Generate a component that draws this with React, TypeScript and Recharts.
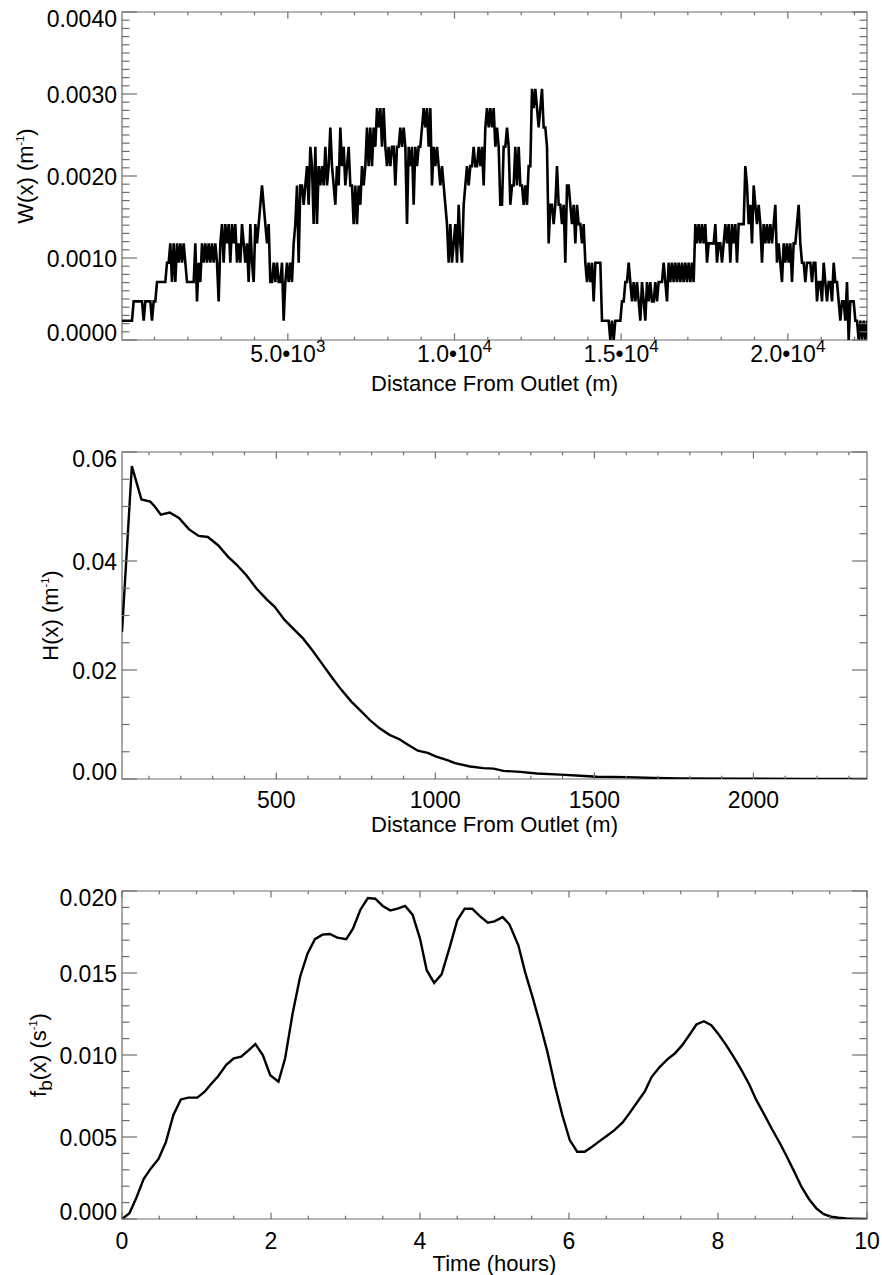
import React from "react";
import { LineChart, Line, XAxis, YAxis, ReferenceArea } from "recharts";

const FONT = '"Liberation Sans", Arial, Helvetica, sans-serif';
const FRAME = "#6e6e6e";
const CHART_W = 882;
const PLOT_LEFT = 122;
const PLOT_RIGHT = 867;

// ---- W(x): width function, channel counts on a 50 m grid (one row = 1 km) ----
const W_X0 = 25;
const W_DX = 50;
const W_UNIT = 0.0002356; // one channel, in m^-1
const W_COUNTS = [
  1, 1, 1, 1, 1, 1, 1, 2, 2, 2, 2, 2, 2, 1, 2, 2, 2, 2, 1, 2,
  2, 3, 3, 3, 3, 3, 3, 4, 4, 5, 3, 5, 3, 5, 4, 5, 4, 5, 4, 3,
  3, 3, 3, 3, 5, 2, 4, 3, 5, 4, 5, 4, 5, 4, 5, 4, 5, 4, 2, 5,
  6, 4, 6, 5, 6, 4, 6, 5, 6, 4, 5, 4, 6, 5, 4, 5, 3, 6, 4, 3,
  6, 5, 6, 7, 8, 7, 6, 5, 6, 3, 3, 4, 3, 4, 3, 3, 4, 1, 3, 4,
  3, 4, 3, 5, 6, 8, 4, 8, 8, 7, 8, 9, 7, 10, 9, 6, 10, 6, 9, 8,
  9, 8, 10, 8, 9, 11, 9, 8, 7, 9, 8, 11, 9, 10, 8, 9, 10, 8, 8, 6,
  8, 6, 8, 7, 9, 8, 9, 11, 9, 11, 9, 11, 10, 12, 11, 12, 10, 12, 10, 9,
  10, 9, 10, 10, 8, 10, 10, 11, 10, 11, 10, 6, 10, 9, 10, 7, 10, 9, 10, 10,
  11, 12, 11, 12, 10, 12, 8, 10, 9, 10, 9, 8, 9, 8, 7, 6, 4, 6, 4, 5,
  6, 4, 7, 5, 4, 7, 8, 9, 8, 9, 9, 10, 9, 9, 10, 9, 10, 8, 11, 12,
  11, 12, 11, 12, 10, 11, 10, 7, 7, 10, 10, 11, 10, 7, 8, 8, 10, 8, 10, 8,
  8, 7, 8, 7, 9, 9, 13, 12, 13, 12, 11, 12, 13, 11, 11, 10, 5, 7, 7, 6,
  7, 9, 7, 7, 6, 7, 4, 8, 8, 7, 6, 7, 5, 7, 6, 6, 5, 6, 4, 3,
  4, 3, 4, 2, 4, 4, 4, 4, 1, 1, 1, 1, 1, 0, 1, 0, 1, 1, 1, 1,
  2, 2, 3, 3, 4, 3, 2, 3, 2, 3, 2, 1, 3, 2, 1, 3, 2, 3, 2, 2,
  3, 2, 3, 3, 3, 4, 3, 2, 4, 3, 4, 3, 4, 3, 4, 3, 4, 3, 4, 3,
  4, 3, 4, 3, 6, 5, 6, 5, 6, 5, 6, 4, 5, 5, 5, 5, 6, 4, 5, 5,
  4, 5, 6, 5, 6, 4, 6, 5, 6, 4, 6, 6, 6, 6, 9, 8, 6, 7, 5, 8,
  7, 6, 7, 6, 4, 6, 5, 6, 5, 6, 5, 6, 7, 4, 5, 4, 3, 5, 4, 5,
  4, 5, 3, 5, 5, 6, 7, 5, 4, 4, 3, 4, 4, 4, 3, 4, 4, 2, 3, 3,
  2, 4, 3, 2, 3, 3, 2, 4, 3, 3, 2, 1, 2, 2, 1, 3, 0, 2, 2, 2,
  1, 1, 0, 1, 0, 1, 0, 1,
];
const W_X_MAJOR = [5000, 10000, 15000, 20000];
const W_X_MANTISSA = ["5.0", "1.0", "1.5", "2.0"];
const W_X_EXPONENT = ["3", "4", "4", "4"];
const W_Y_MAJOR = [0, 0.001, 0.002, 0.003, 0.004];
const W_Y_LABELS = ["0.0000", "0.0010", "0.0020", "0.0030", "0.0040"];

// ---- H(x) ----
const H_X = [
  15, 46, 76, 104, 118, 137, 165, 194, 226, 256, 285, 317, 348, 374, 406, 437, 469, 495,
  526, 558, 584, 615, 647, 678, 704, 736, 767, 798, 825, 856, 887, 914, 945, 976, 1003,
  1040, 1062, 1109, 1151, 1183, 1214, 1267, 1319, 1393, 1456, 1508, 1603, 1687, 1771,
  1960, 2150, 2357,
];
const H_V = [
  0.027, 0.0574, 0.0513, 0.0509, 0.05, 0.0485, 0.0489, 0.0479, 0.0458, 0.0446, 0.0444,
  0.0429, 0.0408, 0.0394, 0.0374, 0.035, 0.033, 0.0316, 0.0292, 0.0273, 0.0258, 0.0235,
  0.0209, 0.0184, 0.0164, 0.0142, 0.0124, 0.0106, 0.0093, 0.0081, 0.0073, 0.0063, 0.0052,
  0.0048, 0.0041, 0.0034, 0.0029, 0.0023, 0.002, 0.0019, 0.0015, 0.0013, 0.001, 0.0008,
  0.0006, 0.0004, 0.00035, 0.0002, 0.0001, 0.00005, 0.00003, 0.00002,
];
const H_X_MAJOR = [500, 1000, 1500, 2000];
const H_X_LABELS = ["500", "1000", "1500", "2000"];
const H_Y_MAJOR = [0, 0.02, 0.04, 0.06];
const H_Y_LABELS = ["0.00", "0.02", "0.04", "0.06"];

// ---- f_b(x) vs time ----
const FB_T = [
  0, 0.1, 0.19, 0.29, 0.39, 0.49, 0.59, 0.69, 0.79, 0.89, 1.01, 1.11, 1.19, 1.29, 1.4, 1.5,
  1.6, 1.69, 1.79, 1.89, 1.99, 2.1, 2.19, 2.29, 2.39, 2.49, 2.59, 2.69, 2.79, 2.89, 3.01,
  3.1, 3.2, 3.3, 3.4, 3.5, 3.6, 3.7, 3.8, 3.9, 4.0, 4.09, 4.19, 4.29, 4.4, 4.5, 4.6, 4.7,
  4.8, 4.91, 5.0, 5.11, 5.2, 5.32, 5.41, 5.51, 5.61, 5.71, 5.81, 5.91, 6.01, 6.11, 6.21,
  6.31, 6.41, 6.51, 6.61, 6.72, 6.81, 6.91, 7.02, 7.11, 7.22, 7.32, 7.42, 7.52, 7.62,
  7.71, 7.81, 7.91, 8.01, 8.11, 8.21, 8.31, 8.42, 8.51, 8.62, 8.72, 8.82, 8.92, 9.02,
  9.12, 9.22, 9.32, 9.42, 9.52, 9.62, 9.72, 9.85, 10.0,
];
const FB_V = [
  0, 0.00035, 0.00126, 0.00244, 0.0031, 0.00366, 0.0047, 0.00634, 0.00729, 0.0074, 0.0074,
  0.00776, 0.0082, 0.0087, 0.0094, 0.0098, 0.0099, 0.01025, 0.01066, 0.01, 0.00877,
  0.00837, 0.0098, 0.01253, 0.01476, 0.01618, 0.01706, 0.01734, 0.01738, 0.01716, 0.01706,
  0.0177, 0.01886, 0.01957, 0.01953, 0.01909, 0.01882, 0.01892, 0.01909, 0.01856, 0.0171,
  0.01517, 0.0144, 0.01492, 0.01659, 0.01821, 0.01892, 0.01892, 0.01848, 0.01807, 0.01815,
  0.01841, 0.01797, 0.01669, 0.01507, 0.01354, 0.01192, 0.01019, 0.00816, 0.00634,
  0.00481, 0.0041, 0.0041, 0.00441, 0.00475, 0.00508, 0.00542, 0.00589, 0.00644, 0.00709,
  0.0078, 0.00867, 0.00928, 0.00973, 0.01009, 0.0106, 0.01125, 0.01186, 0.01206, 0.01182,
  0.01125, 0.0106, 0.00989, 0.00912, 0.0082, 0.00729, 0.00638, 0.00552, 0.00471, 0.00384,
  0.00292, 0.00197, 0.00122, 0.00065, 0.0003, 0.00014, 0.00008, 0.00004, 0.00002, 0.00001,
];
const FB_X_MAJOR = [0, 2, 4, 6, 8, 10];
const FB_X_LABELS = ["0", "2", "4", "6", "8", "10"];
const FB_Y_MAJOR = [0, 0.005, 0.01, 0.015, 0.02];
const FB_Y_LABELS = ["0.000", "0.005", "0.010", "0.015", "0.020"];

// evenly spaced minor tick positions
const steps = (a: number, b: number, s: number) =>
  Array.from({ length: Math.round((b - a) / s) + 1 }, (_, i) => parseFloat((a + i * s).toFixed(8)));
const indexOf = (list: number[], v: number) => list.findIndex((m) => Math.abs(m - v) < 1e-9);

const wData = W_COUNTS.map((c, i) => ({ x: W_X0 + i * W_DX, y: c * W_UNIT }));
const hData = H_X.map((x, i) => ({ x, y: H_V[i] }));
const fbData = FB_T.map((x, i) => ({ x, y: FB_V[i] }));

const tickStyle = { fontFamily: FONT, fontSize: 23, fill: "#000" };
const titleStyle = { fontFamily: FONT, fontSize: 22, fill: "#000" };

type PanelProps = {
  data: { x: number; y: number }[];
  top: number;
  height: number;
  plotTop: number;
  plotBottom: number;
  xDomain: [number, number];
  xTicks: number[];
  xMajor: number[];
  xLabel: (i: number) => React.ReactNode;
  xLabelDy: number;
  xTitle: React.ReactNode;
  xTitleDy: number;
  yDomain: [number, number];
  yTicks: number[];
  yMajor: number[];
  yLabels: string[];
  yTitle: React.ReactNode;
  yTitleX: number;
  width?: number;
};

function Panel(p: PanelProps) {
  const XTick = (t: any) => {
    const cx = t.payload?.coordinate ?? t.x;
    const idx = indexOf(p.xMajor, t.payload?.value);
    const len = idx >= 0 ? 6.5 : 3.3;
    return (
      <g>
        <line x1={cx} x2={cx} y1={p.plotBottom} y2={p.plotBottom - len} stroke={FRAME} strokeWidth={1.2} />
        <line x1={cx} x2={cx} y1={p.plotTop} y2={p.plotTop + len} stroke={FRAME} strokeWidth={1.2} />
        {idx >= 0 && (
          <text x={cx} y={p.plotBottom + p.xLabelDy + 8} textAnchor="middle" {...tickStyle}>
            {p.xLabel(idx)}
          </text>
        )}
      </g>
    );
  };

  const YTick = (t: any) => {
    const cy = t.payload?.coordinate ?? t.y;
    const v = t.payload?.value;
    const idx = indexOf(p.yMajor, v);
    const len = idx >= 0 ? 15 : 7.5;
    let off = 1;
    if (Math.abs(v - p.yDomain[1]) < 1e-9) off = 7;
    if (Math.abs(v - p.yDomain[0]) < 1e-9) off = -7;
    return (
      <g>
        <line x1={PLOT_LEFT} x2={PLOT_LEFT + len} y1={cy} y2={cy} stroke={FRAME} strokeWidth={1.2} />
        <line x1={PLOT_RIGHT} x2={PLOT_RIGHT - len} y1={cy} y2={cy} stroke={FRAME} strokeWidth={1.2} />
        {idx >= 0 && (
          <text x={PLOT_LEFT - 5} y={cy + off + 8} textAnchor="end" {...tickStyle}>
            {p.yLabels[idx]}
          </text>
        )}
      </g>
    );
  };

  const xTitle = () => (
    <text x={(PLOT_LEFT + PLOT_RIGHT) / 2} y={p.plotBottom + p.xTitleDy + 8} textAnchor="middle" {...titleStyle}>
      {p.xTitle}
    </text>
  );
  const cyMid = (p.plotTop + p.plotBottom) / 2;
  const yTitle = () => (
    <text transform={`translate(${p.yTitleX + 8}, ${cyMid}) rotate(-90)`} textAnchor="middle" {...titleStyle}>
      {p.yTitle}
    </text>
  );

  return (
    <div style={{ position: "absolute", left: 0, top: p.top }}>
      <LineChart
        width={CHART_W}
        height={p.height}
        data={p.data}
        margin={{ top: p.plotTop, right: CHART_W - PLOT_RIGHT, bottom: 0, left: 0 }}
      >
        <XAxis
          dataKey="x"
          type="number"
          domain={p.xDomain}
          allowDataOverflow
          ticks={p.xTicks}
          interval={0}
          tick={XTick}
          tickLine={false}
          axisLine={false}
          height={p.height - p.plotBottom}
          label={xTitle}
        />
        <YAxis
          type="number"
          domain={p.yDomain}
          allowDataOverflow
          ticks={p.yTicks}
          interval={0}
          tick={YTick}
          tickLine={false}
          axisLine={false}
          width={PLOT_LEFT}
          label={yTitle}
        />
        <ReferenceArea
          x1={p.xDomain[0]}
          x2={p.xDomain[1]}
          y1={p.yDomain[0]}
          y2={p.yDomain[1]}
          fill="none"
          stroke={FRAME}
          strokeWidth={1.2}
        />
        <Line
          dataKey="y"
          type="linear"
          stroke="#000"
          strokeWidth={p.width ?? 2.4}
          strokeLinejoin="miter"
          dot={false}
          activeDot={false}
          isAnimationActive={false}
        />
      </LineChart>
    </div>
  );
}

export default function App() {
  return (
    <div style={{ position: "absolute", left: 0, top: 0, width: CHART_W, height: 1275, background: "#fff" }}>
      <Panel
        data={wData}
        top={0}
        height={420}
        plotTop={12}
        plotBottom={340}
        xDomain={[25, 22375]}
        xTicks={steps(1000, 22000, 1000)}
        xMajor={W_X_MAJOR}
        xLabel={(i) => (
          <>
            <tspan>{W_X_MANTISSA[i]}•10</tspan>
            <tspan dy={-10} fontSize={17}>
              {W_X_EXPONENT[i]}
            </tspan>
          </>
        )}
        xLabelDy={14}
        xTitle="Distance From Outlet (m)"
        xTitleDy={43}
        yDomain={[0, 0.004]}
        yTicks={steps(0, 0.004, 0.0001)}
        yMajor={W_Y_MAJOR}
        yLabels={W_Y_LABELS}
        yTitle={
          <>
            <tspan>W(x) (m</tspan>
            <tspan dy={-9} fontSize={11}>-1</tspan>
            <tspan dy={9}>)</tspan>
          </>
        }
        yTitleX={25}
        width={2.6}
      />
      <Panel
        data={hData}
        top={420}
        height={435}
        plotTop={32}
        plotBottom={359}
        xDomain={[15, 2357]}
        xTicks={steps(100, 2300, 100)}
        xMajor={H_X_MAJOR}
        xLabel={(i) => H_X_LABELS[i]}
        xLabelDy={21}
        xTitle="Distance From Outlet (m)"
        xTitleDy={45}
        yDomain={[0, 0.06]}
        yTicks={steps(0, 0.06, 0.005)}
        yMajor={H_Y_MAJOR}
        yLabels={H_Y_LABELS}
        yTitle={
          <>
            <tspan>H(x) (m</tspan>
            <tspan dy={-9} fontSize={11}>-1</tspan>
            <tspan dy={9}>)</tspan>
          </>
        }
        yTitleX={50}
      />
      <Panel
        data={fbData}
        top={855}
        height={420}
        plotTop={36}
        plotBottom={364}
        xDomain={[0, 10]}
        xTicks={steps(0, 10, 0.5)}
        xMajor={FB_X_MAJOR}
        xLabel={(i) => FB_X_LABELS[i]}
        xLabelDy={22}
        xTitle="Time (hours)"
        xTitleDy={44}
        yDomain={[0, 0.02]}
        yTicks={steps(0, 0.02, 0.001)}
        yMajor={FB_Y_MAJOR}
        yLabels={FB_Y_LABELS}
        yTitle={
          <>
            <tspan>f</tspan>
            <tspan dy={6} fontSize={19}>b</tspan>
            <tspan dy={-6}>(x) (s</tspan>
            <tspan dy={-9} fontSize={11}>-1</tspan>
            <tspan dy={9}>)</tspan>
          </>
        }
        yTitleX={38}
      />
    </div>
  );
}
